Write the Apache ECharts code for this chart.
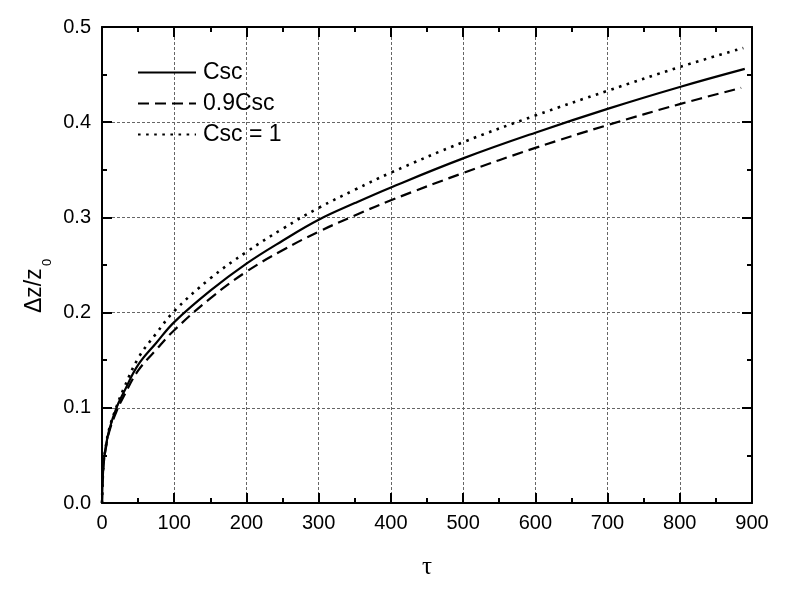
<!DOCTYPE html>
<html>
<head>
<meta charset="utf-8">
<script src="https://cdn.jsdelivr.net/npm/echarts@6/dist/echarts.min.js"></script>
<style>
  html, body { margin: 0; padding: 0; background: #fff; }
  #chart { width: 785px; height: 591px; }
</style>
</head>
<body>
<div id="chart"></div>
<script>
// ---- data ----
const tauCsc   = [0, 2, 5, 10, 20, 30, 50, 75, 100, 150, 200, 250, 300, 350, 400, 500, 600, 700, 800, 890];
const valCsc   = [0, 0.040, 0.058, 0.077, 0.100, 0.116, 0.145, 0.168, 0.190, 0.223, 0.2515, 0.2755, 0.2975, 0.315, 0.3315, 0.362, 0.389, 0.414, 0.437, 0.456];

const tau09    = [0, 2, 5, 10, 20, 30, 50, 75, 100, 150, 200, 250, 300, 350, 400, 500, 600, 700, 800, 885];
const val09    = [0, 0.039, 0.056, 0.075, 0.096, 0.112, 0.139, 0.161, 0.1815, 0.215, 0.243, 0.2655, 0.285, 0.302, 0.318, 0.3466, 0.373, 0.397, 0.419, 0.436];

const tauOne   = [0, 2, 5, 10, 20, 30, 50, 75, 100, 150, 200, 250, 300, 350, 400, 500, 600, 700, 800, 888];
const valOne   = [0, 0.040, 0.058, 0.078, 0.101, 0.120, 0.152, 0.178, 0.2015, 0.236, 0.2637, 0.288, 0.310, 0.329, 0.347, 0.379, 0.407, 0.433, 0.458, 0.478];

const seriesNames = ['Csc', '0.9Csc', 'Csc = 1'];
const xTicks = { min: 0, max: 900, interval: 100 };
const yTicks = { min: 0, max: 0.5, interval: 0.1 };

function pairs(xs, ys) { return xs.map((x, i) => [x, ys[i]]); }

const chart = echarts.init(document.getElementById('chart'), null, { renderer: 'canvas' });

const FONT = 'Liberation Sans, Arial, sans-serif';
const gridLine = { show: true, lineStyle: { color: '#666', width: 1, type: [3, 2] } };

function mainAxisCommon(extra) {
  return Object.assign({
    type: 'value',
    axisLine: { show: true, onZero: false, lineStyle: { color: '#000', width: 2 } },
    axisTick: { show: true, inside: true, length: 10, lineStyle: { color: '#000', width: 2 } },
    minorTick: { show: true, splitNumber: 2, length: 5, lineStyle: { color: '#000', width: 2 } },
    splitLine: gridLine,
    axisLabel: { color: '#000', fontSize: 20, fontFamily: FONT, margin: 10 }
  }, extra);
}
function mirrorAxis(extra) {
  return Object.assign({
    type: 'value',
    axisLine: { show: true, onZero: false, lineStyle: { color: '#000', width: 2 } },
    axisTick: { show: true, inside: true, length: 10, lineStyle: { color: '#000', width: 2 } },
    minorTick: { show: true, splitNumber: 2, length: 5, lineStyle: { color: '#000', width: 2 } },
    splitLine: { show: false },
    axisLabel: { show: false }
  }, extra);
}

const option = {
  backgroundColor: '#fff',
  animation: false,
  grid: { left: 102, right: 33, top: 27, bottom: 88, containLabel: false },
  xAxis: [
    mainAxisCommon({
      position: 'bottom', min: xTicks.min, max: xTicks.max, interval: xTicks.interval,
      name: 'τ', nameLocation: 'middle', nameGap: 52,
      nameTextStyle: { color: '#000', fontSize: 25, fontFamily: 'Liberation Serif, serif' }
    }),
    mirrorAxis({ position: 'top', min: xTicks.min, max: xTicks.max, interval: xTicks.interval })
  ],
  yAxis: [
    mainAxisCommon({
      position: 'left', min: yTicks.min, max: yTicks.max, interval: yTicks.interval,
      axisLabel: { color: '#000', fontSize: 20, fontFamily: FONT, margin: 11,
                   formatter: v => v.toFixed(1) }
    }),
    mirrorAxis({ position: 'right', min: yTicks.min, max: yTicks.max, interval: yTicks.interval })
  ],
  legend: {
    orient: 'vertical', left: 137, top: 61, padding: 0,
    itemWidth: 58, itemHeight: 20, itemGap: 8,
    itemStyle: { opacity: 0 },
    textStyle: { color: '#000', fontSize: 23, fontFamily: FONT, padding: [0, 0, 0, 2] },
    data: seriesNames
  },
  graphic: [
    { type: 'text', x: 35, y: 313, rotation: Math.PI / 2,
      style: { text: 'Δz/z', font: '23px Liberation Sans, Arial, sans-serif', fill: '#000',
               align: 'left', verticalAlign: 'middle' } },
    { type: 'text', x: 47, y: 266, rotation: Math.PI / 2,
      style: { text: '0', font: '13px Liberation Sans, Arial, sans-serif', fill: '#000',
               align: 'left', verticalAlign: 'middle' } }
  ],
  series: [
    { name: seriesNames[0], type: 'line', showSymbol: false, symbol: 'none', smooth: 0.4,
      data: pairs(tauCsc, valCsc), lineStyle: { color: '#000', width: 2.2, type: 'solid' },
      itemStyle: { color: '#000' } },
    { name: seriesNames[1], type: 'line', showSymbol: false, symbol: 'none', smooth: 0.4,
      data: pairs(tau09, val09), lineStyle: { color: '#000', width: 2.2, type: [11, 6] },
      itemStyle: { color: '#000' } },
    { name: seriesNames[2], type: 'line', showSymbol: false, symbol: 'none', smooth: 0.4,
      data: pairs(tauOne, valOne), lineStyle: { color: '#000', width: 2.6, type: [2.6, 5.5] },
      itemStyle: { color: '#000' } }
  ]
};
chart.setOption(option);
</script>
</body>
</html>
